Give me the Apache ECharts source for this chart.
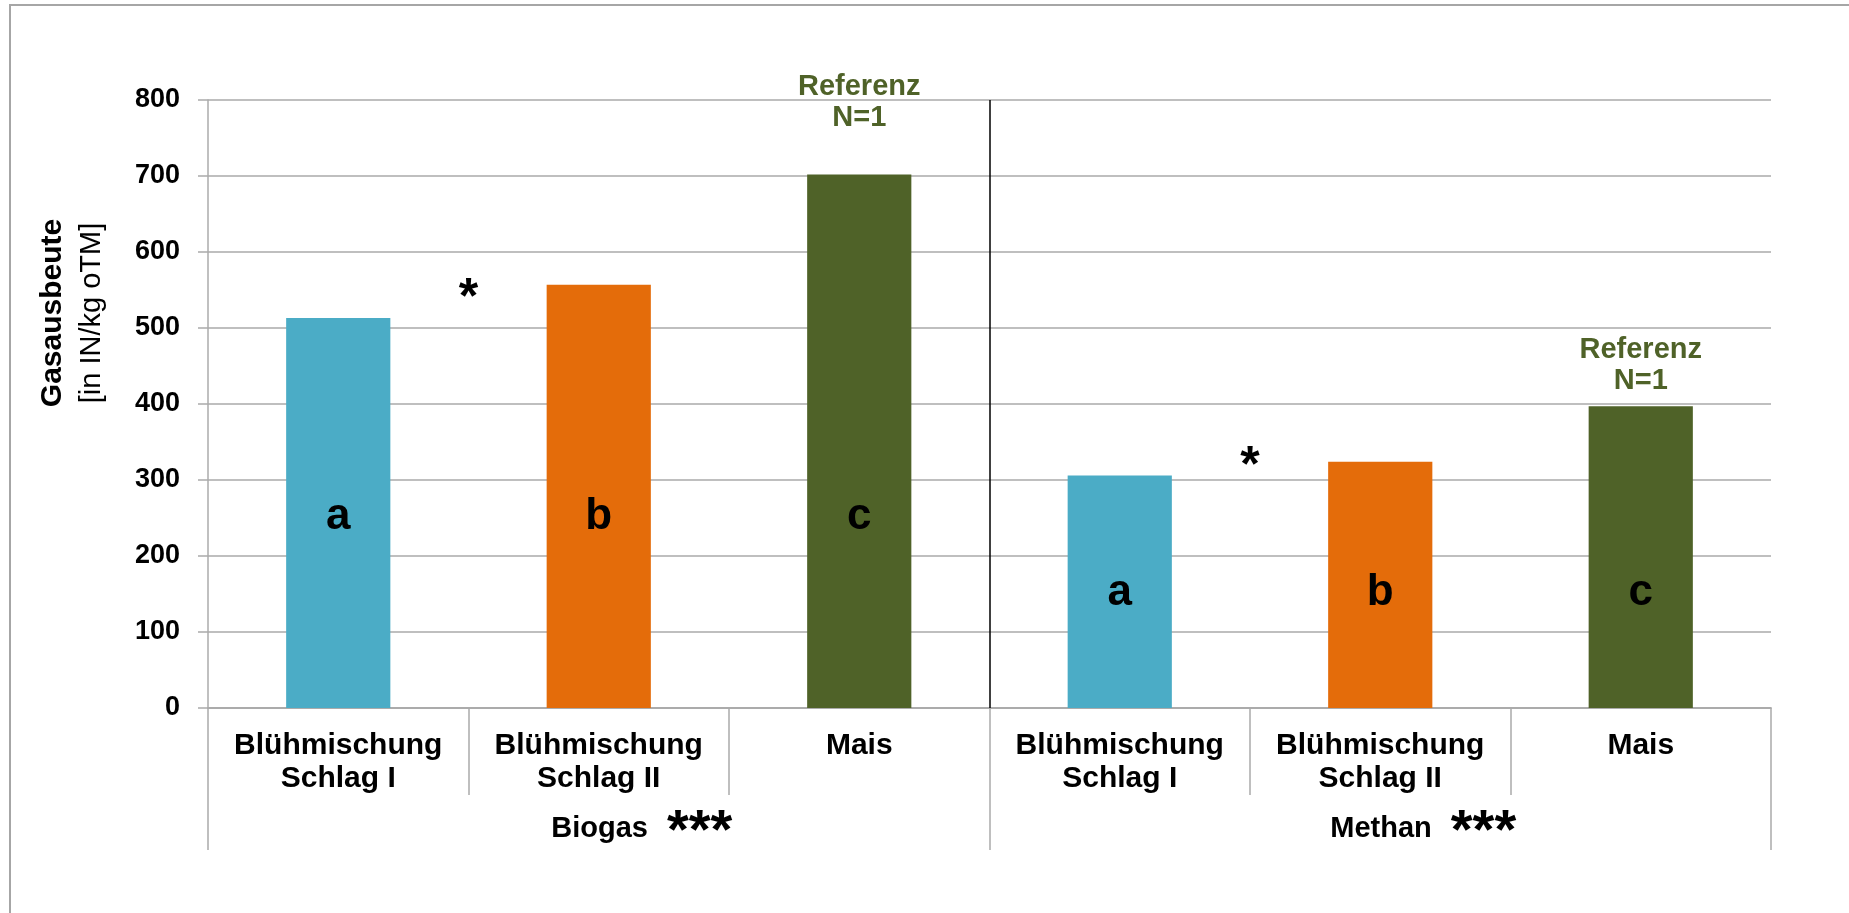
<!DOCTYPE html>
<html>
<head>
<meta charset="utf-8">
<script src="https://cdn.jsdelivr.net/npm/echarts@6/dist/echarts.min.js"></script>
<style>
  html, body { margin: 0; padding: 0; background: #fff; }
  #main { width: 1849px; height: 913px; }
</style>
</head>
<body>
<div id="main"></div>
<script>
    // Gasausbeute [lN/kg oTM] je Variante
    const categories = ['Blühmischung\nSchlag I', 'Blühmischung\nSchlag II', 'Mais',
                        'Blühmischung\nSchlag I', 'Blühmischung\nSchlag II', 'Mais'];
    const groups = ['Biogas', 'Methan'];
    const groupStars = ['***', '***'];
    const values = [513, 557, 702, 306, 324, 397];

    // Buchstaben (Signifikanzgruppen) in den Balken, Höhe in Achseneinheiten
    const letters = ['a', 'b', 'c', 'a', 'b', 'c'];
    const letterLevel = [252, 252, 252, 152, 152, 152];

    // Sterne zwischen den beiden Blühmischungen (x in Kategorie-Einheiten)
    const starX = [1, 4];
    const starY = [548, 327];

    // "Referenz N=1" über Mais
    const refX = [2.5, 5.5];
    const refY = [797, 451];
    const refText = 'Referenz\nN=1';

    const yMin = 0, yMax = 800, yStep = 100;

    const colors = ['#4BACC6', '#E46C0A', '#4F6228'];
    const FONT = '"Liberation Sans", Arial, sans-serif';
    const GRID_GREY = '#BFBFBF';
    const AXIS_GREY = '#ABABAB';

    var myChart = echarts.init(document.getElementById('main'));

    // unsichtbare Punkte, nur für Beschriftungen
    const hiddenPoint = { color: 'rgba(0,0,0,0)', opacity: 1 };

    let option = {
        backgroundColor: '#fff',
        animation: false,
        textStyle: { fontFamily: FONT },
        grid: { left: 208, right: 78, top: 100, bottom: 205 },
        graphic: [
            {
                type: 'polyline',
                shape: { points: [[10, 913], [10, 5], [1849, 5]] },
                style: { stroke: '#A6A6A6', lineWidth: 2, fill: null }
            },
            {
                type: 'text', x: 53, y: 313, rotation: Math.PI / 2,
                style: { text: 'Gasausbeute', fontFamily: FONT, fontWeight: 'bold', fontSize: 30,
                         fill: '#000', align: 'center', verticalAlign: 'middle' }
            },
            {
                type: 'text', x: 92, y: 313, rotation: Math.PI / 2,
                style: { text: '[in IN/kg oTM]', fontFamily: FONT, fontSize: 29,
                         fill: '#000', align: 'center', verticalAlign: 'middle' }
            }
        ],
        xAxis: [
            {
                type: 'category',
                position: 'bottom',
                data: categories,
                axisLine: { lineStyle: { color: AXIS_GREY, width: 1.5 } },
                axisTick: { show: true, length: 87, interval: 0, lineStyle: { color: AXIS_GREY, width: 1.5 } },
                axisLabel: { interval: 0, margin: 21, color: '#000', fontSize: 30, fontWeight: 'bold',
                             lineHeight: 33, fontFamily: FONT }
            },
            {
                type: 'category',
                position: 'bottom',
                data: groups,
                axisLine: { lineStyle: { color: AXIS_GREY, width: 1.5 } },
                axisTick: { show: true, length: 142, interval: 0, lineStyle: { color: AXIS_GREY, width: 1.5 } },
                axisLabel: {
                    interval: 0, margin: 89, color: '#000', padding: [0, 0, 0, 86],
                    formatter: function (v, i) {
                        return '{n|' + v + '}{g|}{s|' + groupStars[i] + '}';
                    },
                    rich: {
                        n: { fontSize: 29, fontWeight: 'bold', fontFamily: FONT, color: '#000' },
                        g: { width: 19 },
                        s: { fontSize: 56, fontWeight: 'bold', fontFamily: FONT, color: '#000', padding: [8, 0, 0, 0] }
                    }
                }
            },
            {
                type: 'value', position: 'top', min: 0, max: categories.length, show: false
            }
        ],
        yAxis: {
            type: 'value',
            min: yMin,
            max: yMax,
            interval: yStep,
            axisLine: { show: true, lineStyle: { color: AXIS_GREY, width: 1.5 } },
            axisTick: { show: true, length: 10, lineStyle: { color: AXIS_GREY, width: 1.5 } },
            axisLabel: { margin: 28, color: '#000', fontSize: 27, fontWeight: 'bold', fontFamily: FONT },
            splitLine: { lineStyle: { color: GRID_GREY, width: 2 } }
        },
        series: [
            {
                type: 'bar',
                xAxisIndex: 0,
                barWidth: '40%',
                data: values.map(function (v, i) {
                    return { value: v, itemStyle: { color: colors[i % 3] } };
                })
            },
            {
                // Buchstaben in den Balken + Trennlinie zwischen Biogas / Methan
                type: 'scatter',
                xAxisIndex: 2,
                symbolSize: 1,
                itemStyle: hiddenPoint,
                silent: true,
                z: 5,
                data: letters.map(function (t, i) { return [i + 0.5, letterLevel[i], t]; }),
                label: {
                    show: true, position: 'inside', color: '#000', fontSize: 44, fontWeight: 'bold',
                    fontFamily: FONT, textBorderWidth: 0,
                    formatter: function (p) { return p.data[2]; }
                },
                markLine: {
                    silent: true,
                    symbol: 'none',
                    label: { show: false },
                    lineStyle: { color: '#000', width: 1.5, type: 'solid' },
                    data: [{ xAxis: 3 }]
                }
            },
            {
                type: 'scatter',
                xAxisIndex: 2,
                symbolSize: 1,
                itemStyle: hiddenPoint,
                silent: true,
                z: 5,
                data: starX.map(function (x, i) { return [x, starY[i]]; }),
                label: {
                    show: true, position: 'inside', color: '#000', fontSize: 50, fontWeight: 'bold',
                    fontFamily: FONT, offset: [0, 8], textBorderWidth: 0,
                    formatter: '*'
                }
            },
            {
                type: 'scatter',
                xAxisIndex: 2,
                symbolSize: 1,
                itemStyle: hiddenPoint,
                silent: true,
                z: 5,
                data: refX.map(function (x, i) { return [x, refY[i]]; }),
                label: {
                    show: true, position: 'inside', color: '#4F6228', fontSize: 29, fontWeight: 'bold',
                    fontFamily: FONT, lineHeight: 31, align: 'center', textBorderWidth: 0,
                    formatter: refText
                }
            }
        ]
    };

    myChart.setOption(option);
</script>
</body>
</html>
